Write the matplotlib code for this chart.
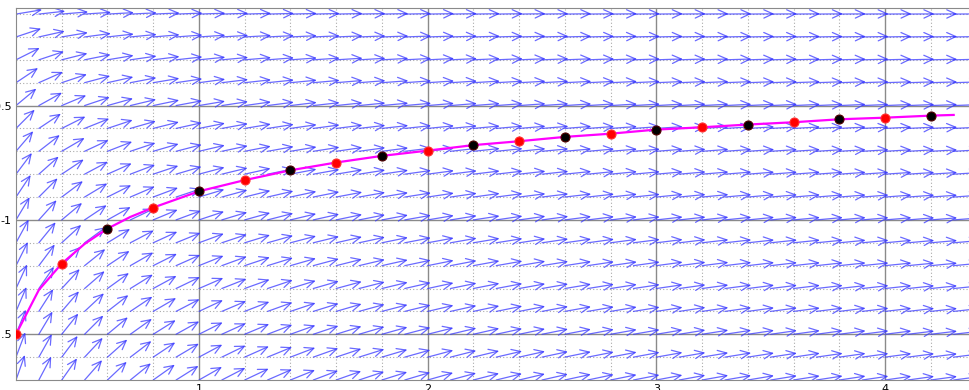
import numpy as np
import matplotlib
matplotlib.use("Agg")
import matplotlib.pyplot as plt
from matplotlib.patches import FancyArrowPatch

# solution points (red / black dots)
dot_x = [0.2, 0.4, 0.6, 0.8, 1.0, 1.2, 1.4, 1.6, 1.8, 2.0, 2.2,
         2.4, 2.6, 2.8, 3.0, 3.2, 3.4, 3.6, 3.8, 4.0, 4.2]
dot_y = [-1.500, -1.191, -1.038, -0.946, -0.875, -0.826, -0.783, -0.749,
         -0.720, -0.697, -0.673, -0.656, -0.637, -0.623, -0.605, -0.595,
         -0.583, -0.573, -0.560, -0.553, -0.544]
dot_colors = ['red', 'red', 'black', 'red', 'black', 'red', 'black', 'red',
              'black', 'red', 'black', 'red', 'black', 'red', 'black', 'red',
              'black', 'red', 'black', 'red', 'black']

# magenta solution curve
curve_x = [0.2, 0.3, 0.4, 0.5, 0.6, 0.7, 0.8, 1.0, 1.2, 1.4, 1.6, 1.8, 2.0,
           2.2, 2.4, 2.6, 2.8, 3.0, 3.2, 3.4, 3.6, 3.8, 4.0, 4.2, 4.3]
curve_y = [-1.500, -1.306, -1.191, -1.105, -1.038, -0.987, -0.946, -0.875,
           -0.826, -0.783, -0.749, -0.720, -0.697, -0.673, -0.656, -0.637,
           -0.623, -0.605, -0.595, -0.583, -0.573, -0.560, -0.553, -0.544,
           -0.541]

x_ticks = [1, 2, 3, 4]
x_labels = ['1', '2', '3', '4']
y_ticks = [-1.5, -1.0, -0.5]
y_labels = ['-1.5', '-1', '-0.5']


# direction field of the ODE  y' = -y / (3x)
def slope(x, y):
    return -y / (3.0 * x)


px_per_unit = 228.7
fig = plt.figure(figsize=(9.7, 3.9), dpi=100)
ax = fig.add_axes([16 / 970, 10 / 390, 959 / 970, 372 / 390])
ax.set_xlim(0.2, 0.2 + 959 / px_per_unit)
ax.set_ylim(-1.7, -1.7 + 372 / px_per_unit)

# grid: dotted minor, solid at labelled values
for gx in np.arange(0.4, 4.4, 0.2):
    if abs(gx - round(gx)) > 1e-6:
        ax.axvline(gx, color='#aaaaaa', lw=0.8, ls=(0, (1, 2)), zorder=1)
for gy in np.arange(-1.6, -0.05, 0.1):
    if abs(gy * 2 - round(gy * 2)) > 1e-6:
        ax.axhline(gy, color='#aaaaaa', lw=0.8, ls=(0, (1, 2)), zorder=1)
for gx in x_ticks:
    ax.axvline(gx, color='#8a8a8a', lw=1.0, zorder=1)
for gy in y_ticks:
    ax.axhline(gy, color='#8a8a8a', lw=1.0, zorder=1)

# arrows of the slope field, fixed length in screen space
L = 26.5 / px_per_unit
for ax_x in np.arange(0.2, 4.35, 0.1):
    for ax_y in np.arange(-1.7, -0.05, 0.1):
        s = slope(ax_x, ax_y)
        n = np.hypot(1.0, s)
        arr = FancyArrowPatch((ax_x, ax_y), (ax_x + L / n, ax_y + L * s / n),
                              arrowstyle='->,head_length=0.65,head_width=0.3',
                              mutation_scale=10, color=(0.22, 0.22, 1.0),
                              alpha=0.75, lw=0.9, shrinkA=0, shrinkB=0,
                              zorder=2)
        ax.add_patch(arr)

ax.plot(curve_x, curve_y, color='#ff00ff', lw=1.6, zorder=3)
for x, y, c in zip(dot_x, dot_y, dot_colors):
    ax.plot(x, y, 'o', color=c, ms=6.5,
            mec='#ff3030' if c == 'red' else '#500000', mew=0.8, zorder=4)

ax.set_xticks(x_ticks)
ax.set_xticklabels(x_labels, fontsize=8)
ax.set_yticks(y_ticks)
ax.set_yticklabels(y_labels, fontsize=8)
ax.tick_params(length=0, pad=3)
for side in ['left', 'top', 'bottom']:
    ax.spines[side].set_color('#8a8a8a')
ax.spines['right'].set_visible(False)

fig.savefig('out.png', dpi=100)
